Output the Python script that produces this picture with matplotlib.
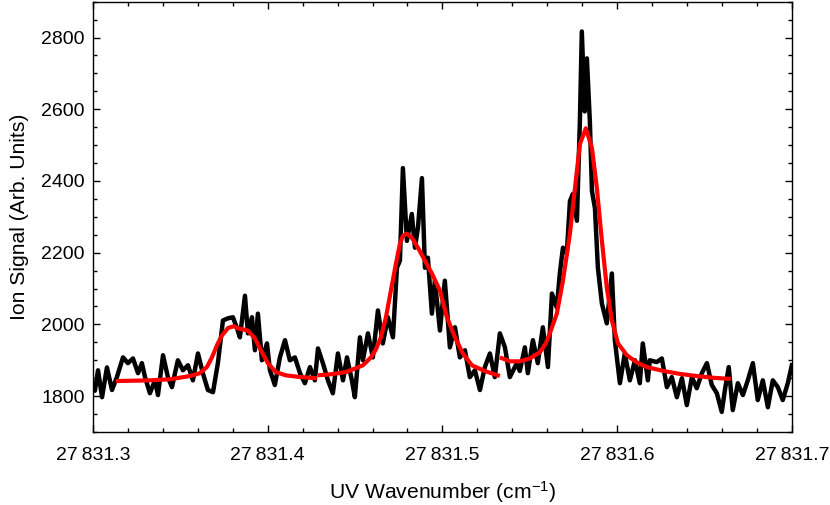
import matplotlib
matplotlib.use('Agg')
import matplotlib.pyplot as plt
from matplotlib import ticker
import numpy as np

plt.rcParams['font.family'] = ['Liberation Sans', 'DejaVu Sans']
plt.rcParams['mathtext.default'] = 'regular'

base = 27831.0

# measured spectrum (offset from 27831 cm-1, ion signal)
spec_x = [0.3000, 0.3011, 0.3029, 0.3052, 0.3080, 0.3109, 0.3137, 0.3172, 0.3200, 0.3229,
          0.3258, 0.3280, 0.3298, 0.3326, 0.3355, 0.3372, 0.3401, 0.3429, 0.3452, 0.3486,
          0.3515, 0.3544, 0.3572, 0.3601, 0.3629, 0.3658, 0.3687, 0.3715, 0.3744, 0.3773,
          0.3801, 0.3824, 0.3841, 0.3870, 0.3887, 0.3910, 0.3927, 0.3944, 0.3967, 0.3996,
          0.4013, 0.4041, 0.4070, 0.4099, 0.4127, 0.4156, 0.4185, 0.4213, 0.4242, 0.4270,
          0.4288, 0.4316, 0.4345, 0.4373, 0.4402, 0.4431, 0.4454, 0.4482, 0.4499, 0.4528,
          0.4545, 0.4574, 0.4602, 0.4631, 0.4659, 0.4688, 0.4717, 0.4740, 0.4757, 0.4774,
          0.4797, 0.4825, 0.4843, 0.4860, 0.4883, 0.4900, 0.4917, 0.4940, 0.4957, 0.4986,
          0.5014, 0.5043, 0.5072, 0.5100, 0.5129, 0.5157, 0.5186, 0.5215, 0.5243, 0.5272,
          0.5300, 0.5329, 0.5358, 0.5386, 0.5426, 0.5443, 0.5472, 0.5489, 0.5518, 0.5546,
          0.5575, 0.5604, 0.5627, 0.5655, 0.5672, 0.5690, 0.5712, 0.5730, 0.5747, 0.5770,
          0.5787, 0.5798, 0.5815, 0.5827, 0.5844, 0.5856, 0.5873, 0.5890, 0.5913, 0.5941,
          0.5970, 0.5987, 0.6016, 0.6044, 0.6073, 0.6102, 0.6130, 0.6147, 0.6176, 0.6187,
          0.6227, 0.6256, 0.6285, 0.6313, 0.6342, 0.6371, 0.6399, 0.6428, 0.6456, 0.6485,
          0.6514, 0.6542, 0.6571, 0.6599, 0.6617, 0.6639, 0.6662, 0.6691, 0.6720, 0.6748,
          0.6777, 0.6805, 0.6834, 0.6863, 0.6891, 0.6920, 0.6948, 0.6977, 0.7000]
spec_y = [1830, 1815, 1872, 1797, 1880, 1817, 1853, 1908, 1892, 1905,
          1864, 1892, 1853, 1808, 1844, 1803, 1914, 1853, 1825, 1900,
          1872, 1886, 1844, 1919, 1864, 1817, 1811, 1892, 2011, 2017,
          2020, 1990, 1964, 2080, 1975, 2020, 1928, 2030, 1900, 1947,
          1872, 1831, 1908, 1956, 1900, 1908, 1864, 1836, 1881, 1844,
          1933, 1892, 1844, 1808, 1919, 1844, 1908, 1844, 1797, 1964,
          1900, 1975, 1908, 2039, 1947, 2020, 1964, 2158, 2178, 2436,
          2233, 2308, 2214, 2269, 2408, 2158, 2186, 2030, 2122, 1983,
          2122, 1936, 1992, 1908, 1928, 1853, 1872, 1817, 1881, 1919,
          1853, 1975, 1936, 1853, 1892, 1870, 1936, 1864, 1956, 1892,
          1992, 1881, 2086, 2047, 2142, 2214, 2197, 2344, 2364, 2289,
          2567, 2817, 2594, 2742, 2567, 2372, 2325, 2158, 2058, 2003,
          2142, 1956, 1836, 1919, 1844, 1900, 1836, 1947, 1844, 1900,
          1895, 1905, 1825, 1853, 1797, 1850, 1775, 1853, 1822, 1864,
          1892, 1831, 1808, 1756, 1817, 1881, 1761, 1836, 1803, 1844,
          1892, 1789, 1844, 1769, 1844, 1825, 1789, 1836, 1886]

# fit curve, three segments
fit1_x = [0.3132, 0.3326, 0.3441, 0.3555, 0.3612, 0.3652, 0.3681, 0.3710, 0.3738, 0.3773,
          0.3807, 0.3830, 0.3887, 0.3927, 0.3961, 0.4001, 0.4047, 0.4104, 0.4190, 0.4282]
fit1_y = [1842, 1844, 1847, 1856, 1864, 1881, 1908, 1942, 1969, 1990,
          1995, 1989, 1983, 1961, 1928, 1892, 1867, 1858, 1853, 1850]
fit2_x = [0.4288, 0.4362, 0.4448, 0.4505, 0.4545, 0.4591, 0.4619, 0.4648, 0.4677, 0.4705,
          0.4734, 0.4757, 0.4774, 0.4797, 0.4825, 0.4860, 0.4900, 0.4940, 0.4986, 0.5026,
          0.5072, 0.5117, 0.5169, 0.5243, 0.5329]
fit2_y = [1858, 1861, 1867, 1878, 1886, 1908, 1930, 1964, 2020, 2094,
          2169, 2225, 2247, 2253, 2242, 2214, 2178, 2142, 2094, 2020,
          1964, 1919, 1886, 1870, 1856]
fit3_x = [0.5329, 0.5386, 0.5443, 0.5500, 0.5557, 0.5592, 0.5615, 0.5655, 0.5690, 0.5730,
          0.5759, 0.5787, 0.5821, 0.5856, 0.5884, 0.5913, 0.5941, 0.5970, 0.6005, 0.6056,
          0.6113, 0.6170, 0.6267, 0.6359, 0.6456, 0.6553, 0.6651]
fit3_y = [1908, 1897, 1897, 1905, 1922, 1947, 1975, 2030, 2122, 2253,
          2381, 2503, 2547, 2492, 2381, 2233, 2103, 2011, 1947, 1914,
          1894, 1881, 1870, 1862, 1856, 1851, 1848]

fig = plt.figure(figsize=(8.3, 5.05), dpi=100)
ax = fig.add_axes([0.112, 0.1446, 0.842, 0.852])

ax.plot(base + np.array(spec_x), spec_y, color='black', lw=3.2, solid_joinstyle='round')
for fx, fy in [(fit1_x, fit1_y), (fit2_x, fit2_y), (fit3_x, fit3_y)]:
    ax.plot(base + np.array(fx), fy, color='#ff0000', lw=3, solid_capstyle='butt')

ax.set_xlim(base + 0.3, base + 0.7)
ax.set_ylim(1700, 2900)

ax.xaxis.set_major_locator(ticker.MultipleLocator(0.1))
ax.xaxis.set_minor_locator(ticker.MultipleLocator(0.02))
ax.yaxis.set_major_locator(ticker.MultipleLocator(200))
ax.yaxis.set_minor_locator(ticker.MultipleLocator(50))
ax.xaxis.set_major_formatter(ticker.FuncFormatter(lambda v, p: '27\u2009%.1f' % (v - 27000)))
ax.yaxis.set_major_formatter(ticker.FuncFormatter(lambda v, p: '%d' % v))

ax.tick_params(which='both', direction='in', top=True, right=True, labelsize=14, width=1)
ax.tick_params(which='major', length=5)
ax.tick_params(which='minor', length=3)
ax.tick_params(axis='x', which='major', pad=11)
ax.tick_params(axis='y', which='major', pad=6)
for s in ax.spines.values():
    s.set_linewidth(1)

ax.set_xlabel('UV Wavenumber (cm$^{-1}$)', fontsize=15.2, labelpad=11)
ax.set_ylabel('Ion Signal (Arb. Units)', fontsize=15.2, labelpad=9)

fig.savefig('out.png', dpi=100)
